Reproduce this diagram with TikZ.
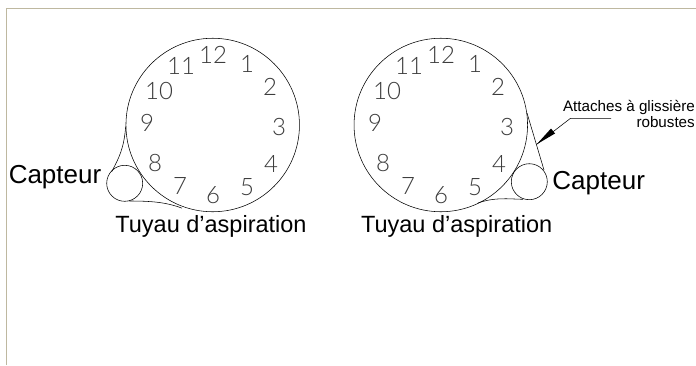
\documentclass[tikz,border=0pt]{standalone}
\usepackage{fontspec}
\setmainfont{Liberation Sans}
\newfontfamily\clk{Lato Light}
\definecolor{frametan}{RGB}{190,184,160}
\definecolor{digit}{RGB}{60,60,60}
\tikzset{
  dial/.style={circle,draw=black,line width=.55pt,minimum size=173.5pt,inner sep=0pt},
  sensor/.style={circle,draw=black,line width=.55pt,minimum size=36pt,inner sep=0pt},
  hour/.style={inner sep=0pt,text=digit,font=\clk\fontsize{24}{24}\selectfont},
  bigtext/.style={inner sep=0pt,anchor=base,font=\fontsize{26}{26}\selectfont},
  hosetext/.style={inner sep=0pt,anchor=base,font=\fontsize{23.5}{23.5}\selectfont},
  smalltext/.style={inner sep=0pt,align=right,font=\fontsize{15.2}{15.8}\selectfont},
  hose/.style={draw=black,line width=.55pt},
  framerule/.style={draw=frametan,line width=1.3pt}
}
\begin{document}
\begin{tikzpicture}[x=1pt,y=-1pt]
\useasboundingbox (0,0) rectangle (696,365);
\clip (0,0) rectangle (696,365);
\fill[white] (0,0) rectangle (696,365);
\coordinate (frameTL) at (6.5,8.5);
\coordinate (frameTR) at (696,8.5);
\coordinate (frameBL) at (6.5,365);
\draw[framerule] (frameBL) -- (frameTL) -- (frameTR);
% left unit
\node[dial] (dialL) at (212.7,125) {};
\node[sensor] (sensL) at (124.7,183.3) {};
\foreach \n/\x/\y in {12/213/55,1/247/63.5,2/270/87,3/279/127,4/271/164,5/247/187,6/213/195,7/180/186,8/155/163,9/147/123,10/159/91,11/181/66}
  \node[hour] (L\n) at (\x,\y) {\n};
\draw[hose] (dialL.west |- 0,126.7) .. controls (124,148) and (119,158) .. (111.7,171.7);
\draw[hose] (129.3,201) .. controls (150,201) and (166,202) .. (182,208.2);
\node[bigtext] (capL) at (55,183) {Capteur};
\node[hosetext] (tuyL) at (211,232.7) {Tuyau d’aspiration};
% right unit
\node[dial] (dialR) at (440.8,125) {};
\node[sensor] (sensR) at (529.3,181.7) {};
\foreach \n/\x/\y in {12/441/55,1/475/63.5,2/498/87,3/507/127,4/499/164,5/475/187,6/441/195,7/408/186,8/383/163,9/375/123,10/387/91,11/409/66}
  \node[hour] (R\n) at (\x,\y) {\n};
\draw[hose] (527,113) -- (544,170);
\draw[hose] (478,203) .. controls (495,197) and (508,199) .. (523,199.3);
\node[bigtext] (capR) at (598.7,189.5) {Capteur};
\node[hosetext] (tuyR) at (456.7,232.7) {Tuyau d’aspiration};
% leader
\node[smalltext,anchor=north east] (attach) at (695,100) {Attaches à glissière\\robustes};
\coordinate (ldA) at (611,118.3);
\coordinate (ldB) at (570.5,118.3);
\coordinate (ldTip) at (536.7,144.3);
\draw[line width=.55pt] (ldA) -- (ldB) -- (ldTip);
\fill[black] (ldTip) -- (551,128.5) -- (555,133.5) -- cycle;
\end{tikzpicture}
\end{document}
